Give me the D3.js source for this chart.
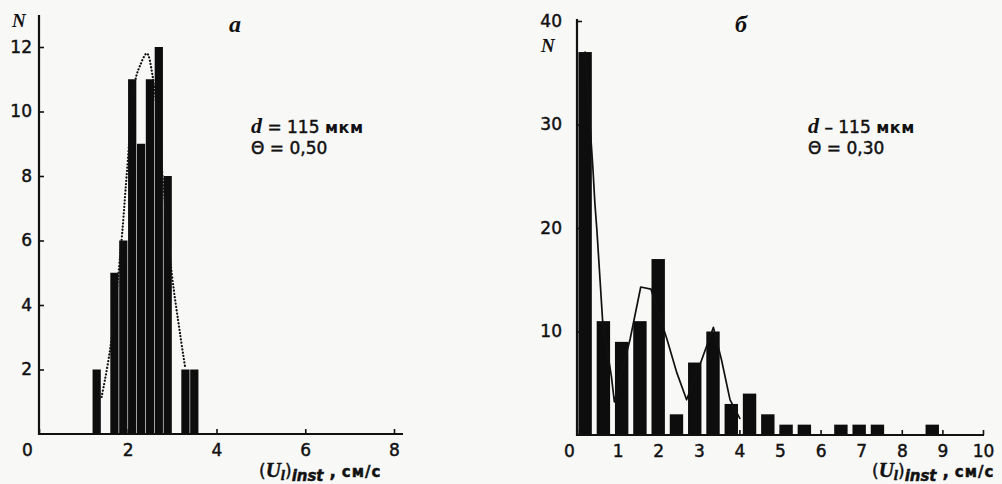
<!DOCTYPE html>
<html>
<head>
<meta charset="utf-8">
<script src="https://cdn.jsdelivr.net/npm/d3@7"></script>
<style>
  body { margin: 0; background: #f8f8f7; }
  text { fill: #111; }
  .num { font-family: "DejaVu Sans", Verdana, sans-serif; font-size: 17px; stroke: #111; stroke-width: 0.45px; }
  .ital { font-family: "Liberation Serif", "DejaVu Serif", serif; font-style: italic; font-weight: bold; }
</style>
</head>
<body>
<script>
const width = 1002;
const height = 484;

// panel a  (Θ = 0,50)
const aCenters = [1.3, 1.7, 1.9, 2.1, 2.3, 2.5, 2.7, 2.9, 3.3, 3.5];
const aCounts = [2, 5, 6, 11, 9, 11, 12, 8, 2, 2];
const aCurveX = [1.41, 1.6, 1.86, 1.98, 2.16, 2.27, 2.43, 2.56, 2.75, 2.99, 3.18, 3.29];
const aCurveN = [1.15, 2.6, 6.0, 8.1, 10.9, 11.4, 11.8, 11.1, 8.5, 5.0, 3.1, 2.1];
const aXTicks = [0, 2, 4, 6, 8];
const aYTicks = [2, 4, 6, 8, 10, 12];

// panel б  (Θ = 0,30)
const bCenters = [0.2, 0.65, 1.1, 1.55, 2.0, 2.45, 2.9, 3.35, 3.8, 4.25, 4.7, 5.15, 5.6, 6.5, 6.95, 7.4, 8.75];
const bCounts = [37, 11, 9, 11, 17, 2, 7, 10, 3, 4, 2, 1, 1, 1, 1, 1, 1];
const bLineX = [0.2, 0.39, 0.44, 0.49, 0.63, 0.85, 0.92, 1.31, 1.57, 1.82, 2.22, 2.46, 2.7, 3.07, 3.36, 3.56, 3.77, 4.01];
const bLineN = [37, 25.9, 22.4, 19.8, 11.1, 5.6, 3.2, 9.3, 14.3, 14.1, 9.2, 6.0, 3.4, 7.25, 10.4, 7.25, 3.4, 1.6];
const bXTicks = d3.range(0, 11);
const bYTicks = [10, 20, 30, 40];

const svg = d3.select('body').append('svg')
  .attr('width', width)
  .attr('height', height);

function panel(p) {
  const x = d3.scaleLinear().domain(p.xDomain).range(p.xRange);
  const y = d3.scaleLinear().domain(p.yDomain).range(p.yRange);
  const g = svg.append('g');

  // bars
  g.selectAll('rect.bar')
    .data(p.centers)
    .join('rect')
    .attr('class', 'bar')
    .attr('x', (d) => x(d - p.barW / 2))
    .attr('width', (d) => x(d + p.barW / 2) - x(d - p.barW / 2))
    .attr('y', (d, i) => y(p.counts[i]))
    .attr('height', (d, i) => y(0) - y(p.counts[i]))
    .attr('fill', '#0d0d0d');

  // fitted curve
  const pts = p.lineX.map((d, i) => [d, p.lineN[i]]);
  g.append('path')
    .datum(pts)
    .attr('d', d3.line().x((d) => x(d[0])).y((d) => y(d[1])).curve(p.curve))
    .attr('fill', 'none')
    .attr('stroke', '#111')
    .attr('stroke-width', p.dotted ? 2.2 : 1.7)
    .attr('stroke-dasharray', p.dotted ? '0.1,3.2' : null)
    .attr('stroke-linecap', 'round')
    .attr('stroke-linejoin', 'round');

  // axes
  const xAxis = g.append('g')
    .attr('transform', `translate(0,${y(0)})`)
    .call(d3.axisBottom(x).tickValues(p.xTicks).tickSize(-5).tickPadding(10).tickFormat(d3.format('d')));
  const yAxis = g.append('g')
    .attr('transform', `translate(${x(0)},0)`)
    .call(d3.axisLeft(y).tickValues(p.yTicks).tickSize(-5).tickPadding(p.yPad).tickFormat(d3.format('d')));
  [xAxis, yAxis].forEach((a) => {
    a.attr('font-size', null).attr('font-family', null);
    a.select('.domain').remove();
    a.selectAll('line').attr('stroke', '#111').attr('stroke-width', 1.6);
    a.selectAll('text').attr('class', 'num');
  });
  xAxis.selectAll('.tick').filter((d) => d === 0).select('text').attr('x', p.zeroShift);

  g.append('line')
    .attr('x1', x(0)).attr('x2', x(p.xDomain[1]) + p.xExtra)
    .attr('y1', y(0)).attr('y2', y(0))
    .attr('stroke', '#111').attr('stroke-width', 2.2);
  g.append('line')
    .attr('x1', x(0)).attr('x2', x(0))
    .attr('y1', y(0) + 1).attr('y2', p.yTop)
    .attr('stroke', '#111').attr('stroke-width', 2.2);

  // labels
  g.append('text').attr('class', 'ital').attr('x', p.nPos[0]).attr('y', p.nPos[1])
    .attr('font-size', 19).attr('font-weight', 'normal').text('N');
  g.append('text').attr('class', 'ital').attr('x', p.tagPos[0]).attr('y', p.tagPos[1])
    .attr('font-size', 24).text(p.tag);

  const note = g.append('g').attr('transform', `translate(${p.notePos[0]},${p.notePos[1]})`);
  const l1 = note.append('text').attr('class', 'num');
  l1.append('tspan').attr('class', 'ital').attr('font-size', 22).attr('stroke-width', 0).text('d');
  l1.append('tspan').text(` ${p.eq} 115 `);
  l1.append('tspan').attr('font-weight', 'bold').attr('font-size', 16).attr('stroke-width', 0)
    .attr('letter-spacing', 0.6).text('мкм');
  note.append('text').attr('class', 'num').attr('y', 21).text(p.theta);

  const t = g.append('text').attr('class', 'num')
    .attr('x', p.titlePos[0]).attr('y', p.titlePos[1]).attr('stroke-width', 0);
  t.append('tspan').attr('font-size', 17).text('(');
  t.append('tspan').attr('class', 'ital').attr('font-size', 21).attr('font-weight', 'normal').text('U');
  t.append('tspan').attr('class', 'ital').attr('font-size', 15).attr('dy', 3).text('l');
  t.append('tspan').attr('font-size', 17).attr('dy', -3).text(')');
  t.append('tspan').attr('font-size', 15).attr('font-style', 'italic').attr('font-weight', 'bold').attr('dy', 4).text('inst');
  t.append('tspan').attr('font-size', 17).attr('font-weight', 'bold').attr('dy', -4).text(' , ');
  t.append('tspan').attr('font-size', 15).attr('font-weight', 'bold').attr('letter-spacing', 1).text('см/с');
}

panel({
  xDomain: [0, 8], xRange: [39, 394], yDomain: [0, 12], yRange: [434, 47],
  centers: aCenters, counts: aCounts, barW: 0.186,
  lineX: aCurveX, lineN: aCurveN, curve: d3.curveCatmullRom, dotted: true,
  xTicks: aXTicks, yTicks: aYTicks, yPad: 7, zeroShift: -12, xExtra: 9, yTop: 15,
  nPos: [12, 27], tag: 'a', tagPos: [229, 32],
  notePos: [251, 133], eq: '=', theta: 'Θ = 0,50',
  titlePos: [259, 477]
});

panel({
  xDomain: [0, 10], xRange: [577, 983], yDomain: [0, 40], yRange: [435, 21],
  centers: bCenters, counts: bCounts, barW: 0.33,
  lineX: bLineX, lineN: bLineN, curve: d3.curveLinear, dotted: false,
  xTicks: bXTicks, yTicks: bYTicks, yPad: 15, zeroShift: -8, xExtra: 1, yTop: 19,
  nPos: [541, 52], tag: 'б', tagPos: [735, 32],
  notePos: [808, 133], eq: '–', theta: 'Θ = 0,30',
  titlePos: [872, 477]
});
</script>
</body>
</html>
